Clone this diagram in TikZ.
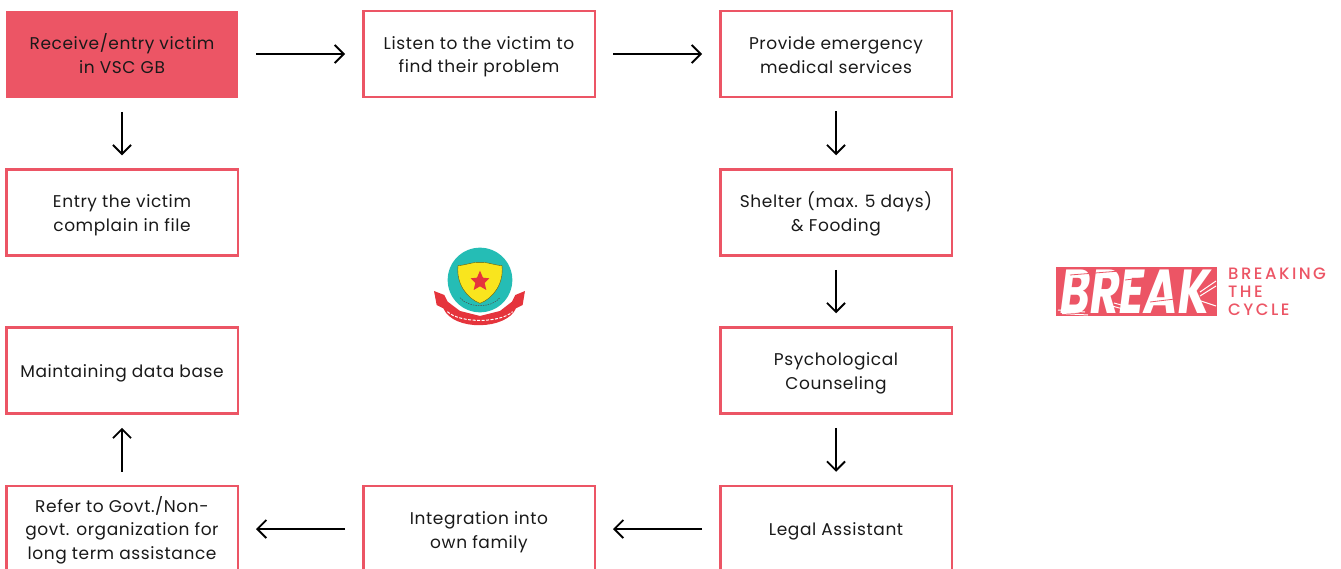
\documentclass[tikz,border=0pt]{standalone}
\usepackage{graphicx}
\usepackage{fontspec}
\setmainfont{Poppins}
\newfontfamily\brandfont{Poppins Medium}
\usetikzlibrary{arrows.meta}
\definecolor{brk}{HTML}{EC5565}
\definecolor{teal1}{HTML}{25BDB5}
\definecolor{yel}{HTML}{F9E51E}
\definecolor{emred}{HTML}{E5343C}
\newcommand{\ls}{\rule[-3.5pt]{0pt}{22pt}}
\tikzset{
  x=1pt,y=-1pt,
  stepbox/.style={draw=brk,line width=2.5pt,minimum width=231.5pt,minimum height=86pt,inner sep=0pt,align=center,
    font=\fontsize{17pt}{22.5pt}\selectfont\addfontfeatures{LetterSpace=3.5},text=black!90},
  firstbox/.style={stepbox,fill=brk,draw=none,minimum width=232pt,minimum height=87pt},
  flow/.style={draw=black,line width=1.9pt,-{Straight Barb[length=9pt,width=18pt,line width=1.9pt]},shorten >=17pt,shorten <=17pt},
  vflow/.style={flow,shorten >=13pt,shorten <=13pt},
  brand/.style={text=brk,font=\brandfont\fontsize{16.5pt}{18pt}\selectfont\addfontfeatures{LetterSpace=15},anchor=west,inner sep=0pt}
}
\begin{document}
\begin{tikzpicture}
\useasboundingbox (0,0) rectangle (1341,568);
\clip (0,0) rectangle (1341,568);
\node[firstbox] (a1) at (122,54) {\ls Receive/entry victim\\\ls in VSC GB};
\node[stepbox] (a2) at (479,54) {\ls Listen to the victim to\\\ls find their problem};
\node[stepbox] (a3) at (836,54) {\ls Provide emergency\\\ls medical services};
\node[stepbox] (b1) at (122,212.5) {\ls Entry the victim\\\ls complain in file};
\node[stepbox] (b3) at (836,212.5) {\ls Shelter (max. 5 days)\\\ls \& Fooding};
\node[stepbox] (c1) at (122,370.5) {\ls Maintaining data base};
\node[stepbox] (c3) at (836,370.5) {\ls Psychological\\\ls Counseling};
\node[stepbox] (d1) at (122,529) {\ls Refer to Govt./Non-\\\ls govt. organization for\\\ls long term assistance};
\node[stepbox] (d2) at (479,529) {\ls Integration into\\\ls own family};
\node[stepbox] (d3) at (836,529) {\ls Legal Assistant};
\draw[flow] (a1) -- (a2);
\draw[flow] (a2) -- (a3);
\draw[vflow] (a1) -- (b1);
\draw[vflow] (a3) -- (b3);
\draw[vflow] (b3) -- (c3);
\draw[vflow] (c3) -- (d3);
\draw[flow] (d3) -- (d2);
\draw[flow] (d2) -- (d1);
\draw[vflow] (d1) -- (c1);
% emblem
\begin{scope}[shift={(410,230)},x=0.3333pt,y=-0.3333pt]
  \fill[emred] (72,183) -- (103,195) -- (113,215) -- (150,243) -- (210,258) -- (270,243) -- (306,215) -- (316,195) -- (345,183)
     -- (338,225) -- (318,235) .. controls (290,300) and (130,305) .. (100,235) -- (80,225) -- cycle;
  \fill[white] (210,150) circle (103);
  \fill[teal1] (210,150) circle (97);
  \fill[yel,draw=black!60!yel,line width=.4pt] (144,107) .. controls (170,105) and (190,95) .. (210,97) .. controls (230,95) and (250,105) .. (276,107)
     .. controls (282,160) and (250,205) .. (210,220) .. controls (170,205) and (138,160) .. (144,107) -- cycle;
  \fill[emred] (210,122) -- (219,143) -- (238,145) -- (224,159) -- (229,180) -- (210,169) -- (191,180) -- (196,159) -- (182,145) -- (201,143) -- cycle;
  \draw[white,line width=1pt,dash pattern=on 3pt off 1.5pt] (112,245) .. controls (150,280) and (270,280) .. (308,245);
  \draw[black!70,line width=.5pt,dash pattern=on 1.5pt off 1pt] (150,203) .. controls (175,235) and (245,235) .. (270,203);
\end{scope}
% BREAK logo
\fill[brk] (1056,267) rectangle (1217,316);
\node[text=white,inner sep=0pt,font=\fontsize{47pt}{47pt}\selectfont\bfseries\itshape] (logo) at (1135,291.5) {\scalebox{0.97}[1.32]{BREAK}};
\draw[white,line width=1pt] (1058,310) -- (1085,312) (1062,313.5) -- (1088,315) (1112,306) -- (1134,312) (1114,303) -- (1136,309);
\draw[brk,line width=.8pt] (1070,275) -- (1120,271) (1125,280) -- (1150,277) (1150,302) -- (1175,299);
\draw[white,line width=1pt] (1200,292) -- (1216,281) (1200,296) -- (1216,286) (1198,300) -- (1216,306);
\node[brand] (t1) at (1228,273.5) {BREAKING};
\node[brand] (t2) at (1228,291.5) {THE};
\node[brand] (t3) at (1228,309.5) {CYCLE};
\end{tikzpicture}
\end{document}
